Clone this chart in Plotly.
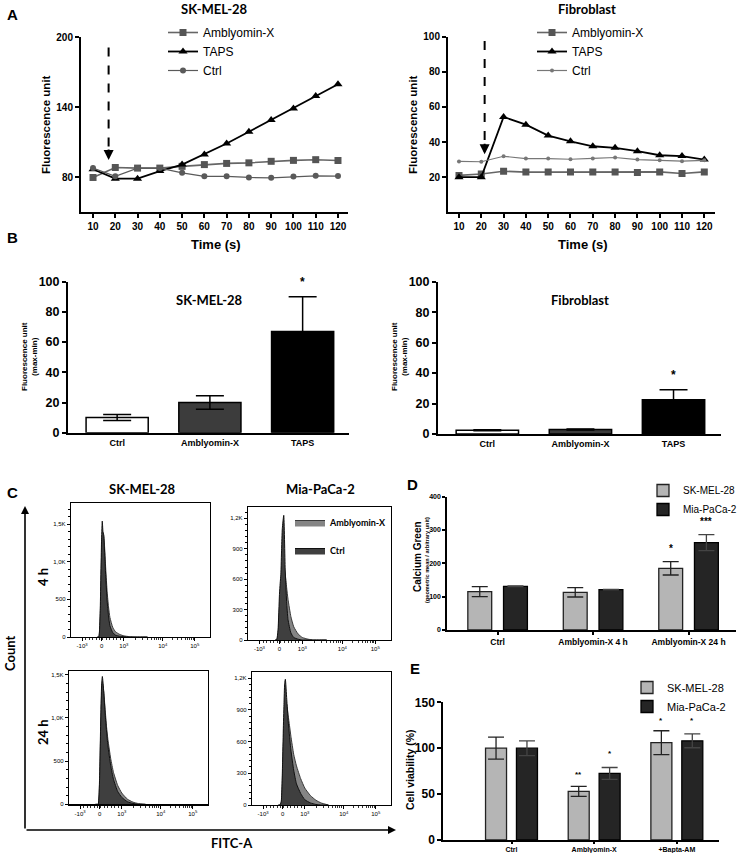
import math
import plotly.graph_objects as go

W, H = 738, 853


def fx(x):
    return x / W


def fy(y):
    return 1 - y / H


# ---------------- DATA ----------------
# Panel A: kinetics (fluorescence unit vs time, s)
TIME_S = [10, 20, 30, 40, 50, 60, 70, 80, 90, 100, 110, 120]
SK_AMBLYOMIN = [80, 88.5, 88, 88, 89.5, 91, 92, 92.5, 93.8, 94.6, 95.2, 94.5]
SK_TAPS = [87, 79, 79, 85.5, 91, 99.7, 109, 119, 129, 139, 149.7, 159.7]
SK_CTRL = [88, 81, 88, 88, 84, 81, 81, 80, 79.7, 80.8, 81.4, 81.2]
FB_AMBLYOMIN = [21, 21.8, 23.4, 22.9, 22.9, 22.9, 23, 23, 22.6, 23, 22.1, 23]
FB_TAPS = [20, 20, 54.3, 49.9, 43.7, 40.4, 37.6, 36.7, 34.8, 32.5, 32, 30]
FB_CTRL = [29, 28.8, 31.9, 30.6, 30.6, 30.2, 30.7, 31.2, 30, 29.6, 29.1, 29.6]
ARROW_SK = dict(x=17, y_top=191, y_tip=95)
ARROW_FB = dict(x=21.5, y_top=97.5, y_tip=33)

# Panel B: max-min fluorescence
B_CATS = ["Ctrl", "Amblyomin-X", "TAPS"]
B_SK_MEAN = [10, 20, 67]
B_SK_ERR = [2, 4.5, 23]
B_FB_MEAN = [2.5, 3, 22.5]
B_FB_ERR = [0.3, 0.3, 6.5]
B_SK_STAR = [("TAPS", 100, "*")]
B_FB_STAR = [("TAPS", 39, "*")]

# Panel C: flow cytometry histograms (display position 0-1 vs count)
FLOW_X = [0.19, 0.20, 0.21, 0.22, 0.225, 0.23, 0.235, 0.24, 0.25, 0.26,
          0.27, 0.28, 0.30, 0.32, 0.35, 0.38, 0.42, 0.46, 0.50, 0.55]
SK4_CTRL = [0, 0, 350, 1300, 1540, 1400, 1360, 1200, 800, 480,
            280, 150, 60, 25, 10, 4, 0, 0, 0, 0]
SK4_AMB = [0, 0, 250, 1100, 1350, 1380, 1350, 1250, 900, 600,
           400, 260, 130, 70, 35, 15, 5, 0, 0, 0]
MIA4_CTRL = [0, 0, 100, 450, 560, 650, 900, 1100, 1230, 700,
             380, 200, 70, 25, 8, 0, 0, 0, 0, 0]
MIA4_AMB = [0, 0, 50, 300, 400, 500, 600, 680, 720, 650,
            520, 400, 230, 130, 60, 25, 8, 0, 0, 0]
SK24_CTRL = [0, 0, 0, 300, 700, 1100, 1400, 1480, 1300, 1050,
             850, 680, 450, 290, 150, 80, 30, 10, 0, 0]
SK24_AMB = [0, 0, 0, 250, 600, 1000, 1300, 1420, 1300, 1100,
            900, 750, 530, 370, 220, 130, 60, 25, 8, 0]
MIA24_CTRL = [0, 0, 30, 400, 700, 950, 1150, 1190, 1000, 800,
              650, 520, 330, 200, 110, 50, 20, 5, 0, 0]
MIA24_AMB = [0, 0, 20, 300, 550, 750, 900, 980, 950, 850,
             750, 650, 480, 370, 250, 160, 90, 45, 18, 0]
FLOW_TICK_POS = [0.08, 0.22, 0.38, 0.66, 0.89]
FLOW_TICK_TEXT = ["-10<sup>3</sup>", "0", "10<sup>3</sup>", "10<sup>4</sup>", "10<sup>5</sup>"]
SK_COUNT_TICKS = [0, 500, 1000, 1500]
SK_COUNT_TEXT = ["0", "500", "1,0K", "1,5K"]
MIA_COUNT_TICKS = [0, 300, 600, 900, 1200]
MIA_COUNT_TEXT = ["0", "300", "600", "900", "1,2K"]

# Panel D: Calcium Green geometric mean
D_CATS = ["Ctrl", "Amblyomin-X 4 h", "Amblyomin-X 24 h"]
D_SK = [115, 113, 185]
D_SK_ERR = [15, 14, 20]
D_MIA = [131, 121, 262]
D_MIA_ERR = [1, 0.5, 24]
D_STARS = [(2, -0.187, 245, "*"), (2, 0.187, 325, "***")]

# Panel E: cell viability
E_CATS = ["Ctrl", "Amblyomin-X", "+Bapta-AM"]
E_SK = [100, 53, 106]
E_SK_ERR = [12, 5.5, 13]
E_MIA = [100, 72.5, 108]
E_MIA_ERR = [8, 6.5, 7.5]
E_STARS = [(1, -0.187, 71, "**"), (1, 0.187, 94, "*"),
           (2, -0.187, 130.5, "*"), (2, 0.187, 130.5, "*")]

# ---------------- STYLE ----------------
ARIAL = "Liberation Sans"
CALIBRI = "Lato"
SK_GRAY = "#b5b5b5"
MIA_DARK = "#252525"

fig = go.Figure()


# ---- Panel A ----
def a_traces(xa, ya, leg, amb, taps, ctrl, ctrl_size, ctrl_col):
    fig.add_trace(go.Scatter(x=TIME_S, y=amb, name="Amblyomin-X", mode="lines+markers",
                             marker=dict(symbol="square", size=7, color="#555555"),
                             line=dict(color="#666666", width=1.6),
                             xaxis=xa, yaxis=ya, legend=leg))
    fig.add_trace(go.Scatter(x=TIME_S, y=taps, name="TAPS", mode="lines+markers",
                             marker=dict(symbol="triangle-up", size=8, color="black"),
                             line=dict(color="black", width=1.8),
                             xaxis=xa, yaxis=ya, legend=leg))
    fig.add_trace(go.Scatter(x=TIME_S, y=ctrl, name="Ctrl", mode="lines+markers",
                             marker=dict(symbol="circle", size=ctrl_size, color=ctrl_col),
                             line=dict(color=ctrl_col, width=1.2),
                             xaxis=xa, yaxis=ya, legend=leg))


a_traces("x", "y", "legend", SK_AMBLYOMIN, SK_TAPS, SK_CTRL, 6, "#5a5a5a")
a_traces("x2", "y2", "legend2", FB_AMBLYOMIN, FB_TAPS, FB_CTRL, 4, "#777777")

# ---- Panel B ----
B_COLORS = ["white", "#3c3c3c", "black"]
fig.add_trace(go.Bar(x=B_CATS, y=B_SK_MEAN, width=0.67,
                     marker=dict(color=B_COLORS, line=dict(color="black", width=1.5)),
                     error_y=dict(type="data", array=B_SK_ERR, color="black", thickness=1.5, width=14),
                     xaxis="x3", yaxis="y3", showlegend=False))
fig.add_trace(go.Bar(x=B_CATS, y=B_FB_MEAN, width=0.67,
                     marker=dict(color=B_COLORS, line=dict(color="black", width=1.5)),
                     error_y=dict(type="data", array=B_FB_ERR, color="black", thickness=1.5, width=14),
                     xaxis="x4", yaxis="y4", showlegend=False))

# ---- Panel C ----
AMB_FILL, AMB_LINE = "#858585", "#3a3a3a"
CTRL_FILL, CTRL_LINE = "#3f3f3f", "#111111"


def flow(xa, ya, amb, ctrl, show):
    fig.add_trace(go.Scatter(x=FLOW_X, y=amb, name="Amblyomin-X", mode="lines", fill="tozeroy",
                             fillcolor=AMB_FILL, line=dict(color=AMB_LINE, width=1, shape="spline", smoothing=0.5),
                             xaxis=xa, yaxis=ya, legend="legend3", showlegend=show, legendgroup="amb"))
    fig.add_trace(go.Scatter(x=FLOW_X, y=ctrl, name="Ctrl", mode="lines", fill="tozeroy",
                             fillcolor=CTRL_FILL, line=dict(color=CTRL_LINE, width=1, shape="spline", smoothing=0.5),
                             xaxis=xa, yaxis=ya, legend="legend3", showlegend=show, legendgroup="ctrl"))


flow("x5", "y5", SK4_AMB, SK4_CTRL, False)
flow("x6", "y6", MIA4_AMB, MIA4_CTRL, True)
flow("x7", "y7", SK24_AMB, SK24_CTRL, False)
flow("x8", "y8", MIA24_AMB, MIA24_CTRL, False)

# ---- Panel D ----
fig.add_trace(go.Bar(x=D_CATS, y=D_SK, name="SK-MEL-28", width=0.25, offset=-0.312,
                     marker=dict(color=SK_GRAY, line=dict(color="#222222", width=1.3)),
                     error_y=dict(type="data", array=D_SK_ERR, color="#222222", thickness=1.3, width=8),
                     xaxis="x9", yaxis="y9", legend="legend4"))
fig.add_trace(go.Bar(x=D_CATS, y=D_MIA, name="Mia-PaCa-2", width=0.25, offset=0.062,
                     marker=dict(color=MIA_DARK, line=dict(color="black", width=1.3)),
                     error_y=dict(type="data", array=D_MIA_ERR, color="#444444", thickness=1.3, width=8),
                     xaxis="x9", yaxis="y9", legend="legend4"))

# ---- Panel E ----
fig.add_trace(go.Bar(x=E_CATS, y=E_SK, name="SK-MEL-28", width=0.254, offset=-0.314,
                     marker=dict(color=SK_GRAY, line=dict(color="#222222", width=1.3)),
                     error_y=dict(type="data", array=E_SK_ERR, color="#222222", thickness=1.3, width=8),
                     xaxis="x10", yaxis="y10", legend="legend5"))
fig.add_trace(go.Bar(x=E_CATS, y=E_MIA, name="Mia-PaCa-2", width=0.254, offset=0.06,
                     marker=dict(color=MIA_DARK, line=dict(color="black", width=1.3)),
                     error_y=dict(type="data", array=E_MIA_ERR, color="#444444", thickness=1.3, width=8),
                     xaxis="x10", yaxis="y10", legend="legend5"))


# ---------------- AXES ----------------
def gp(**kw):
    base = dict(showline=True, linecolor="black", linewidth=2, ticks="outside", ticklen=4,
                tickwidth=2, tickcolor="black", showgrid=False, zeroline=False, fixedrange=True,
                automargin=False,
                tickfont=dict(family=ARIAL, size=10, color="black", weight="bold"))
    base.update(kw)
    return base


def dx(a, b):
    return [fx(a), fx(b)]


def dy(top, bottom):
    return [fy(bottom), fy(top)]


layout_axes = {}
# A
layout_axes["xaxis"] = gp(domain=dx(81, 348), range=[4.6, 124.5], tickvals=TIME_S, anchor="y")
layout_axes["yaxis"] = gp(domain=dy(37, 212), range=[50.5, 200], tickvals=[80, 140, 200], anchor="x")
layout_axes["xaxis2"] = gp(domain=dx(448, 715), range=[5.07, 124.8], tickvals=TIME_S, anchor="y2")
layout_axes["yaxis2"] = gp(domain=dy(36.7, 212.3), range=[0, 100], tickvals=[20, 40, 60, 80, 100], anchor="x2")
# B
bfont = dict(family=ARIAL, size=9, color="black", weight="bold")
layout_axes["xaxis3"] = gp(domain=dx(68, 349), range=[-0.53, 2.5], anchor="y3", ticks="", tickfont=bfont)
layout_axes["yaxis3"] = gp(domain=dy(281.7, 432.7), range=[0, 100], dtick=20, anchor="x3",
                           tickfont=dict(family=ARIAL, size=12.5, color="black", weight="bold"))
layout_axes["xaxis4"] = gp(domain=dx(438, 721), range=[-0.53, 2.51], anchor="y4", ticks="", tickfont=bfont)
layout_axes["yaxis4"] = gp(domain=dy(281.7, 434), range=[0, 100], dtick=20, anchor="x4",
                           tickfont=dict(family=ARIAL, size=12.5, color="black", weight="bold"))


# C
def minor_flow():
    vals = []
    for k in range(2, 10):
        vals.append(FLOW_TICK_POS[2] + (FLOW_TICK_POS[3] - FLOW_TICK_POS[2]) * math.log10(k))
        vals.append(FLOW_TICK_POS[3] + (FLOW_TICK_POS[4] - FLOW_TICK_POS[3]) * math.log10(k))
    step = (FLOW_TICK_POS[2] - FLOW_TICK_POS[0]) / 12
    for i in range(1, 12):
        vals.append(FLOW_TICK_POS[0] + i * step)
    return vals


cfont = dict(family=ARIAL, size=6, color="black")
cx = dict(showline=True, mirror=True, linecolor="black", linewidth=1.2, ticks="outside", ticklen=3,
          tickwidth=1, tickcolor="black", showgrid=False, zeroline=False, range=[0, 1],
          tickvals=FLOW_TICK_POS, ticktext=FLOW_TICK_TEXT, tickfont=cfont, fixedrange=True, automargin=False,
          minor=dict(tickvals=minor_flow(), ticklen=2, tickwidth=0.8, ticks="outside", tickcolor="black"))
cy = dict(showline=True, mirror=True, linecolor="black", linewidth=1.2, ticks="outside", ticklen=3,
          tickwidth=1, tickcolor="black", showgrid=False, zeroline=False, tickfont=cfont, fixedrange=True,
          automargin=False)
layout_axes["xaxis5"] = dict(cx, domain=dx(71, 210), anchor="y5")
layout_axes["yaxis5"] = dict(cy, domain=dy(503, 637), range=[0, 1780], tickvals=SK_COUNT_TICKS,
                             ticktext=SK_COUNT_TEXT, anchor="x5",
                             minor=dict(dtick=100, ticklen=2, ticks="outside", tickcolor="black"))
layout_axes["xaxis6"] = dict(cx, domain=dx(248, 391), anchor="y6")
layout_axes["yaxis6"] = dict(cy, domain=dy(506.7, 640), range=[0, 1315], tickvals=MIA_COUNT_TICKS,
                             ticktext=MIA_COUNT_TEXT, anchor="x6",
                             minor=dict(dtick=60, ticklen=2, ticks="outside", tickcolor="black"))
layout_axes["xaxis7"] = dict(cx, domain=dx(69, 208), anchor="y7")
layout_axes["yaxis7"] = dict(cy, domain=dy(670.7, 804.3), range=[0, 1547], tickvals=SK_COUNT_TICKS,
                             ticktext=SK_COUNT_TEXT, anchor="x7",
                             minor=dict(dtick=100, ticklen=2, ticks="outside", tickcolor="black"))
layout_axes["xaxis8"] = dict(cx, domain=dx(252, 391), anchor="y8")
layout_axes["yaxis8"] = dict(cy, domain=dy(672.3, 805), range=[0, 1256], tickvals=MIA_COUNT_TICKS,
                             ticktext=MIA_COUNT_TEXT, anchor="x8",
                             minor=dict(dtick=60, ticklen=2, ticks="outside", tickcolor="black"))
# D
layout_axes["xaxis9"] = gp(domain=dx(447.3, 736), range=[-0.527, 2.497], anchor="y9", ticklen=3,
                           tickfont=dict(family=ARIAL, size=8.5, color="black", weight="bold"))
layout_axes["yaxis9"] = gp(domain=dy(496.7, 630), range=[0, 400], dtick=100, anchor="x9", ticklen=3,
                           tickfont=dict(family=ARIAL, size=7, color="black", weight="bold"))
# E
layout_axes["xaxis10"] = gp(domain=dx(443.3, 719), range=[-0.825, 2.51], anchor="y10", ticklen=1.5,
                            tickfont=dict(family=ARIAL, size=7, color="black", weight="bold"))
layout_axes["yaxis10"] = gp(domain=dy(702.3, 840), range=[0, 150], dtick=50, anchor="x10",
                            tickfont=dict(family=ARIAL, size=12, color="black", weight="bold"))

# ---------------- ANNOTATIONS ----------------
ann = []


def txt(x, y, s, size, family=ARIAL, bold=True, angle=0, color="black", xanchor="center"):
    ann.append(dict(x=fx(x), y=fy(y), xref="paper", yref="paper", text=s, showarrow=False,
                    textangle=angle, xanchor=xanchor, yanchor="middle",
                    font=dict(family=family, size=size, color=color, weight="bold" if bold else "normal")))


# panel letters
for letter, (lx, ly) in {"A": (12, 15), "B": (13, 238), "C": (13, 492), "D": (412, 485), "E": (415, 668)}.items():
    txt(lx, ly, letter, 15)

# A
txt(214, 9, "SK-MEL-28", 13, CALIBRI)
txt(587, 9, "Fibroblast", 13, CALIBRI)
txt(46, 125, "Fluorescence unit", 11.5, angle=-90)
txt(413, 125, "Fluorescence unit", 11.5, angle=-90)
txt(216, 245, "Time (s)", 13)
txt(583, 245, "Time (s)", 13)
# B
txt(29, 357, "Fluorescence unit<br>(max-min)", 8, angle=-90)
txt(399, 357, "Fluorescence unit<br>(max-min)", 8, angle=-90)
ann.append(dict(x=1, y=88, xref="x3", yref="y3", text="SK-MEL-28", showarrow=False,
                font=dict(family=CALIBRI, size=13, color="black", weight="bold")))
ann.append(dict(x=1, y=88, xref="x4", yref="y4", text="Fibroblast", showarrow=False,
                font=dict(family=CALIBRI, size=13, color="black", weight="bold")))
for cat, yv, s in B_SK_STAR:
    ann.append(dict(x=cat, y=yv, xref="x3", yref="y3", text=s, showarrow=False,
                    font=dict(family=ARIAL, size=12, color="black", weight="bold")))
for cat, yv, s in B_FB_STAR:
    ann.append(dict(x=cat, y=yv, xref="x4", yref="y4", text=s, showarrow=False,
                    font=dict(family=ARIAL, size=12, color="black", weight="bold")))
# C
txt(142, 489, "SK-MEL-28", 13, CALIBRI)
txt(320, 489, "Mia-PaCa-2", 13, CALIBRI)
txt(43, 577, "4 h", 13, CALIBRI, angle=-90)
txt(43, 732, "24 h", 13, CALIBRI, angle=-90)
txt(10, 653, "Count", 13, CALIBRI, angle=-90)
txt(232, 843, "FITC-A", 13, CALIBRI)
# big axis arrows of panel C
ann.append(dict(x=fx(25), y=fy(506), xref="paper", yref="paper", ax=0, ay=324, axref="pixel", ayref="pixel",
                showarrow=True, arrowhead=2, arrowsize=1, arrowwidth=1.6, arrowcolor="black", text=""))
ann.append(dict(x=fx(396), y=fy(830), xref="paper", yref="paper", ax=-371, ay=0, axref="pixel", ayref="pixel",
                showarrow=True, arrowhead=2, arrowsize=1, arrowwidth=1.6, arrowcolor="black", text=""))
# D
txt(417, 557, "Calcium Green", 10, angle=-90)
txt(427, 560, "(geometric mean / arbitrary unit)", 5.6, angle=-90)
for ci, off, yv, s in D_STARS:
    ann.append(dict(x=ci + off, y=yv, xref="x9", yref="y9", text=s, showarrow=False,
                    font=dict(family=ARIAL, size=10, color="black", weight="bold")))
# E
txt(410, 770, "Cell viability (%)", 10.5, angle=-90)
for ci, off, yv, s in E_STARS:
    ann.append(dict(x=ci + off, y=yv, xref="x10", yref="y10", text=s, showarrow=False,
                    font=dict(family=ARIAL, size=8, color="black", weight="bold")))

# dashed arrows of panel A (arrow heads)
for xa, ya, arr in (("x", "y", ARROW_SK), ("x2", "y2", ARROW_FB)):
    ann.append(dict(x=arr["x"], y=arr["y_tip"], xref=xa, yref=ya, ax=0, ay=-12, showarrow=True,
                    arrowhead=2, arrowsize=1, arrowwidth=2, arrowcolor="black", text=""))

shapes = []
for xa, ya, arr in (("x", "y", ARROW_SK), ("x2", "y2", ARROW_FB)):
    shapes.append(dict(type="line", xref=xa, yref=ya, x0=arr["x"], x1=arr["x"], y0=arr["y_top"],
                       y1=arr["y_tip"] + (arr["y_top"] - arr["y_tip"]) * 0.08,
                       line=dict(color="black", width=2, dash="dash")))


# ---------------- LEGENDS ----------------
def leg(x, y, size, family=ARIAL, bold=False, gap=0):
    return dict(x=fx(x), y=fy(y), xanchor="left", yanchor="top", bgcolor="rgba(0,0,0,0)",
                font=dict(family=family, size=size, color="black", weight="bold" if bold else "normal"),
                tracegroupgap=gap, itemclick=False, itemdoubleclick=False)


fig.update_layout(
    width=W, height=H, margin=dict(l=0, r=0, t=0, b=0, pad=0, autoexpand=False),
    paper_bgcolor="white", plot_bgcolor="rgba(0,0,0,0)",
    barmode="overlay", showlegend=True,
    legend=leg(163, 18, 12),
    legend2=leg(532, 18, 12),
    legend3=leg(290, 508, 9, CALIBRI, True, 9),
    legend4=leg(643, 476, 10),
    legend5=leg(627, 673, 11),
    annotations=ann, shapes=shapes,
    **layout_axes,
)

fig.write_html("out.html", config={"displayModeBar": False, "staticPlot": True},
               post_script="document.body.style.margin='0px';document.body.style.overflow='hidden';")
